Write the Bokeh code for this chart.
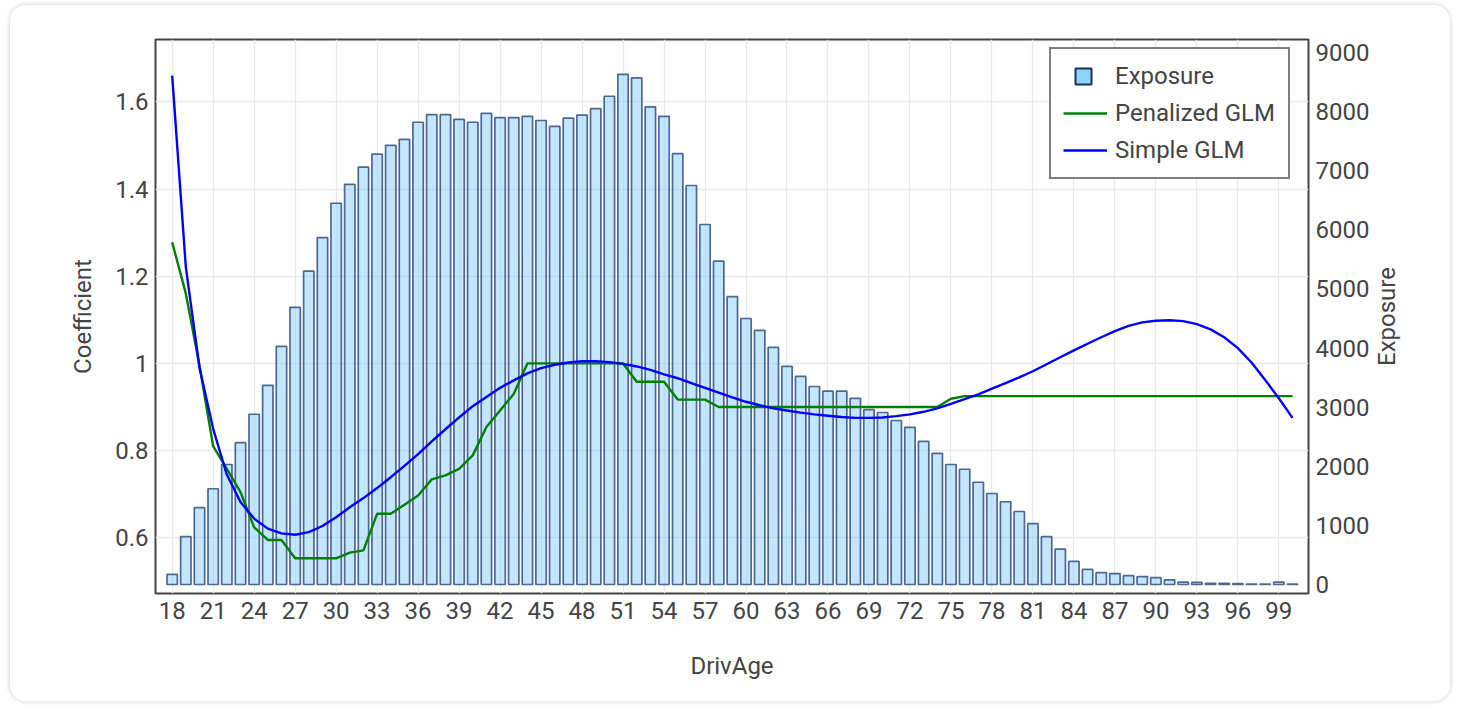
import math

from bokeh.embed import file_html
from bokeh.models import (ColumnDataSource, FixedTicker, Label, Legend,
                          LegendItem, LinearAxis, NumeralTickFormatter,
                          Range1d)
from bokeh.plotting import figure
from bokeh.resources import INLINE

# ---- data -----------------------------------------------------------------
ages = list(range(18, 101))

exposure = [
    170, 810, 1300, 1620, 2030, 2400, 2880, 3370, 4030, 4690,      # 18-27
    5300, 5870, 6450, 6770, 7060, 7280, 7430, 7530, 7820, 7950,    # 28-37
    7950, 7870, 7820, 7970, 7900, 7900, 7920, 7850, 7750, 7890,    # 38-47
    7940, 8050, 8260, 8630, 8570, 8080, 7920, 7290, 6750, 6090,    # 48-57
    5470, 4870, 4500, 4300, 4010, 3690, 3520, 3350, 3270, 3270,    # 58-67
    3150, 2960, 2910, 2775, 2660, 2420, 2220, 2030, 1950, 1730,    # 68-77
    1540, 1400, 1235, 1030, 810, 600, 390, 255, 200, 185,          # 78-87
    150, 135, 115, 80, 40, 35, 20, 20, 15, 8,                      # 88-97
    8, 40, 8,                                                      # 98-100
]

penalized_glm = [
    1.278, 1.160, 0.995, 0.810, 0.758, 0.705, 0.624, 0.595, 0.595, 0.553,  # 18-27
    0.553, 0.553, 0.553, 0.566, 0.571, 0.655, 0.655, 0.676, 0.697, 0.734,  # 28-37
    0.743, 0.758, 0.789, 0.854, 0.892, 0.930, 1.000, 1.000, 1.000, 1.000,  # 38-47
    1.000, 1.000, 1.000, 1.000, 0.958, 0.958, 0.958, 0.917, 0.917, 0.917,  # 48-57
    0.900, 0.900, 0.900, 0.900, 0.900, 0.900, 0.900, 0.900, 0.900, 0.900,  # 58-67
    0.900, 0.900, 0.900, 0.900, 0.900, 0.900, 0.900, 0.919, 0.925, 0.925,  # 68-77
    0.925, 0.925, 0.925, 0.925, 0.925, 0.925, 0.925, 0.925, 0.925, 0.925,  # 78-87
    0.925, 0.925, 0.925, 0.925, 0.925, 0.925, 0.925, 0.925, 0.925, 0.925,  # 88-97
    0.925, 0.925, 0.925,                                                    # 98-100
]

simple_glm = [
    1.660, 1.221, 0.990, 0.850, 0.745, 0.682, 0.644, 0.621, 0.610, 0.607,  # 18-27
    0.613, 0.627, 0.647, 0.670, 0.691, 0.714, 0.739, 0.765, 0.792, 0.821,  # 28-37
    0.849, 0.876, 0.902, 0.923, 0.944, 0.961, 0.977, 0.989, 0.997, 1.002,  # 38-47
    1.005, 1.005, 1.003, 0.999, 0.993, 0.985, 0.975, 0.966, 0.955, 0.944,  # 48-57
    0.933, 0.922, 0.912, 0.904, 0.897, 0.892, 0.887, 0.883, 0.880, 0.877,  # 58-67
    0.875, 0.875, 0.876, 0.879, 0.883, 0.889, 0.897, 0.907, 0.918, 0.929,  # 68-77
    0.942, 0.955, 0.968, 0.982, 0.998, 1.014, 1.030, 1.045, 1.060, 1.074,  # 78-87
    1.086, 1.094, 1.098, 1.099, 1.097, 1.090, 1.078, 1.060, 1.035, 1.002,  # 88-97
    0.962, 0.920, 0.875,                                                    # 98-100
]

age_ticks = [18, 21, 24, 27, 30, 33, 36, 39, 42, 45, 48, 51, 54, 57,
             60, 63, 66, 69, 72, 75, 78, 81, 84, 87, 90, 93, 96, 99]
coef_ticks = [0.6, 0.8, 1.0, 1.2, 1.4, 1.6]
exposure_ticks = [0, 1000, 2000, 3000, 4000, 5000, 6000, 7000, 8000, 9000]

# ---- styling --------------------------------------------------------------
FONT = "Roboto"
TEXT = "#444444"
FS = "24px"

source = ColumnDataSource(dict(age=ages, exposure=exposure,
                               penalized=penalized_glm, simple=simple_glm))

p = figure(
    width=1440, height=696,
    output_backend="svg", toolbar_location=None,
    x_range=Range1d(16.78, 101.17),
    y_range=Range1d(0.4722, 1.743),
    min_border_left=145, min_border_right=142,
    min_border_top=34, min_border_bottom=108,
    background_fill_color="white", border_fill_color="white",
)
p.styles = {
    "margin": "5px 0 0 10px",
    "border-radius": "16px",
    "box-shadow": "0 0 5px rgba(0, 0, 0, 0.22)",
    "overflow": "hidden",
}
p.extra_y_ranges = {"exposure": Range1d(-152, 9220)}

p.outline_line_color = "#444444"
p.outline_line_width = 2

# grid
p.xgrid.ticker = FixedTicker(ticks=age_ticks)
p.ygrid.ticker = FixedTicker(ticks=coef_ticks)
for g in (p.xgrid[0], p.ygrid[0]):
    g.grid_line_color = "#e8e8e8"
    g.grid_line_width = 1.3


def style_axis(ax):
    ax.axis_line_color = None
    ax.major_tick_line_color = None
    ax.minor_tick_line_color = None
    ax.major_tick_out = 0
    ax.major_tick_in = 0
    ax.major_label_text_font = FONT
    ax.major_label_text_font_size = FS
    ax.major_label_text_color = TEXT
    ax.axis_label_text_font = FONT
    ax.axis_label_text_font_size = FS
    ax.axis_label_text_font_style = "normal"
    ax.axis_label_text_color = TEXT


# bottom axis
xa = p.xaxis[0]
style_axis(xa)
xa.ticker = FixedTicker(ticks=age_ticks)
xa.axis_label = "DrivAge"
xa.major_label_standoff = 8
xa.axis_label_standoff = 30

# left axis
ya = p.yaxis[0]
style_axis(ya)
ya.ticker = FixedTicker(ticks=coef_ticks)
ya.formatter = NumeralTickFormatter(format="0.[0]")
ya.axis_label = "Coefficient"
ya.major_label_standoff = 7
ya.axis_label_standoff = 15

# right axis for exposure
ra = LinearAxis(y_range_name="exposure",
                ticker=FixedTicker(ticks=exposure_ticks))
style_axis(ra)
ra.major_label_standoff = 7
p.add_layout(ra, "right")

# title of the exposure axis, in its own side panel, reading upwards
p.add_layout(Label(
    x=14, y=277, x_units="screen", y_units="screen",
    text="Exposure", angle=math.pi / 2,
    text_align="center", text_baseline="middle",
    text_font=FONT, text_font_size=FS, text_color=TEXT,
), "right")

# ---- glyphs ---------------------------------------------------------------
p.vbar(x="age", top="exposure", bottom=0, width=0.76, source=source,
       y_range_name="exposure",
       fill_color="#87CEFA", fill_alpha=0.5,
       line_color="#1b3a70", line_alpha=0.75, line_width=1.7)

pen = p.line(x="age", y="penalized", source=source,
             line_color="#008000", line_width=2.4)
simp = p.line(x="age", y="simple", source=source,
              line_color="#0000ff", line_width=2.4)

# legend-only renderers (hidden from the plot area)
exposure_key = p.line(x=[], y=[], line_alpha=0)
exposure_swatch = p.vbar(x="age", top="exposure", width=0.76, source=source,
                         y_range_name="exposure",
                         fill_color="#8ed3f8", line_color="#1a2f5c",
                         line_width=2)
exposure_swatch.visible = False

legend = Legend(
    items=[
        LegendItem(label="Exposure", renderers=[exposure_key]),
        LegendItem(label="Penalized GLM", renderers=[pen]),
        LegendItem(label="Simple GLM", renderers=[simp]),
    ],
    location=(894, 414),
    padding=12, spacing=7,
    glyph_width=44, glyph_height=30, label_height=30,
    label_standoff=8, label_width=161,
    label_text_font=FONT, label_text_font_size=FS, label_text_color=TEXT,
    border_line_color="black", border_line_width=2,
    background_fill_color="white", background_fill_alpha=1.0,
)
p.add_layout(legend)

# square key for the exposure bars, laid over the first legend row
swatch_legend = Legend(
    items=[LegendItem(label=" ", renderers=[exposure_swatch])],
    location=(918, 507),
    padding=0, spacing=0,
    glyph_width=20, glyph_height=20, label_height=20,
    label_standoff=0, label_width=0,
    label_text_font_size="1px",
    inactive_fill_alpha=0.0,
    border_line_color=None, background_fill_alpha=0.0,
)
p.add_layout(swatch_legend)

open("out.html", "w").write(file_html(p, INLINE))
